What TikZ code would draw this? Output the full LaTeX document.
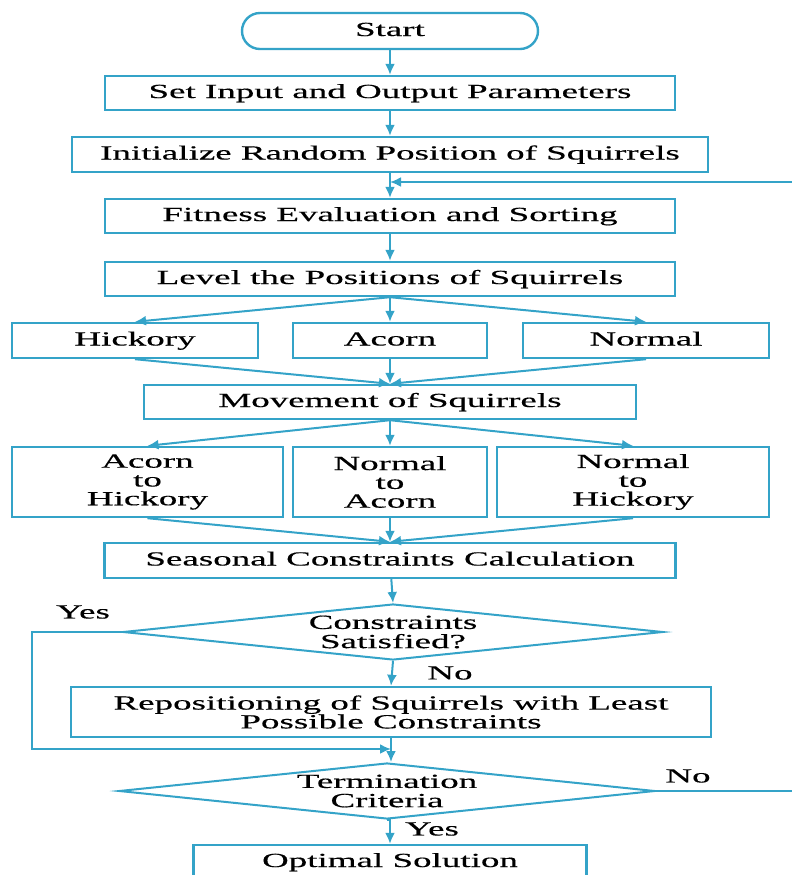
\documentclass[tikz,border=0pt]{standalone}
\usepackage{fontspec}
\setmainfont{Liberation Serif}[FakeStretch=1.85, FakeBold=0.4]
\usetikzlibrary{shapes.geometric,arrows.meta}
\definecolor{flowline}{RGB}{52,163,200}

\begin{document}
\begin{tikzpicture}[x=0.5pt, y=-0.5pt,
        box/.style={draw=flowline, line width=1.2pt, rectangle, inner sep=0pt, minimum height=17pt, align=center, font=\fontsize{10pt}{9.4pt}\selectfont},
        onerow/.style={box, text height=7pt, text depth=2pt},
        dec/.style={draw=flowline, line width=1pt, diamond, inner sep=0pt, minimum height=28pt},
        lbl/.style={inner sep=0pt, align=center, font=\fontsize{10pt}{9.6pt}\selectfont},
        arr/.style={draw=flowline, line width=1pt, -{Latex[length=5.5pt,width=5pt]}}]
            \useasboundingbox (0,0) rectangle (792,875);
            \clip (0,0) rectangle (792,875);

            \node[onerow, rounded corners=9pt, minimum width=148pt, minimum height=18pt] (start) at (390,31) {Start};
            \node[onerow, minimum width=285pt] (setio) at (390,93) {Set Input and Output Parameters};
            \node[onerow, minimum width=318pt, minimum height=17.5pt] (init) at (390,154.5) {Initialize Random Position of Squirrels};
            \node[onerow, minimum width=285pt] (fit) at (390,216) {Fitness Evaluation and Sorting};
            \node[onerow, minimum width=285pt] (level) at (390,279) {Level the Positions of Squirrels};

            \node[onerow, minimum width=123pt, minimum height=17.5pt] (hick) at (135,340.5) {Hickory};
            \node[onerow, minimum width=97pt, minimum height=17.5pt] (acorn) at (390,340.5) {Acorn};
            \node[onerow, minimum width=123pt, minimum height=17.5pt] (norm) at (646,340.5) {Normal};
            \node[onerow, minimum width=246pt] (move) at (390,402) {Movement of Squirrels};

            \node[box, minimum width=135.5pt, minimum height=35pt] (ah) at (147.5,482) {Acorn\\to\\Hickory};
            \node[box, minimum width=97pt, minimum height=35pt] (na) at (390,482) {Normal\\to\\Acorn};
            \node[box, minimum width=136pt, minimum height=35pt] (nh) at (633,482) {Normal\\to\\Hickory};
            \node[onerow, minimum width=285.5pt, minimum height=17.5pt] (season) at (390,560.5) {Seasonal Constraints Calculation};

            \node[dec, minimum width=270pt] (sat) at (393,632) {};
            \node[lbl] (sattxt) at (sat) {Constraints\\Satisfied?};
            \node[box, minimum width=320pt, minimum height=25pt] (repos) at (391,712) {Repositioning of Squirrels with Least\\Possible Constraints};
            \node[dec, minimum width=268pt] (term) at (387,791) {};
            \node[lbl] (termtxt) at (term) {Termination\\Criteria};
            \node[onerow, minimum width=196.5pt] (opt) at (390,862) {Optimal Solution};

            \node[lbl] (yes1) at (83,612) {Yes};
            \node[lbl] (no1) at (450,673) {No};
            \node[lbl] (no2) at (688,776) {No};
            \node[lbl] (yes2) at (432,829) {Yes};

            \coordinate (yesm) at (32,749);
            \coordinate (loopr) at (830,182);

            \draw[arr] (start) -- (setio);
            \draw[arr] (setio) -- (init);
            \draw[arr] (init) -- (fit);
            \draw[arr] (fit) -- (level);
            \foreach \b in {hick,acorn,norm} {
                \draw[arr] (level.south) -- (\b.north);
                \draw[arr] (\b.south) -- (move.north);
            }
            \foreach \b in {ah,na,nh} {
                \draw[arr] (move.south) -- (\b.north);
                \draw[arr] (\b.south) -- (season.north);
            }
            \draw[arr] (season) -- (sat.north);
            \draw[arr] (sat.south) -- (repos.north);
            \draw[arr] (sat.west) -| (yesm) -- (yesm -| repos.south);
            \draw[arr] (repos.south) -- (repos.south |- term.north);
            \draw[arr] (term.south) -- (term.south -| opt.north) -- (opt.north);
            \draw[arr] (term.east) -| (loopr) -- (loopr -| fit.north);

        \end{tikzpicture}
\end{document}
